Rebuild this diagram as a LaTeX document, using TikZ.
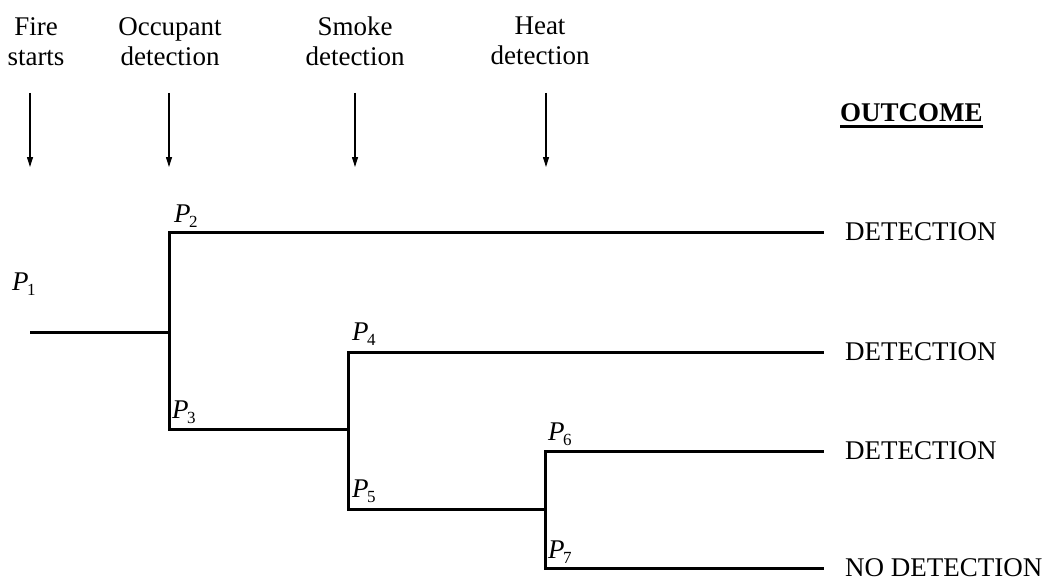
\documentclass[tikz,border=0pt]{standalone}
\usepackage{fontspec}
\setmainfont{Liberation Serif}
\usetikzlibrary{arrows.meta}

% probability label: italic P with an upright subscript digit
\newcommand\problabel[1]{\textit{P}\kern-1.5pt\raisebox{-5pt}{\fontsize{17}{17}\selectfont #1}}

\begin{document}
\begin{tikzpicture}[x=1pt, y=-1pt,
    every node/.style={inner sep=0pt, font=\fontsize{27}{30}\selectfont},
    stage/.style={align=center, anchor=north},
    stagearrow/.style={line width=1.1pt, -{Triangle[length=10pt,width=6pt]}},
    branch/.style={line width=3pt, line cap=rect},
    outcome/.style={anchor=west},
    plab/.style={anchor=base west}]
  \useasboundingbox (0,0) rectangle (1049,583);

  % event headings and their arrows
  \node[stage] (h1) at (36,17)  {Fire\\starts};
  \node[stage] (h2) at (170,17) {Occupant\\detection};
  \node[stage] (h3) at (355,17) {Smoke\\detection};
  \node[stage] (h4) at (540,17) {Heat\\detection};

  \coordinate (a1s) at (30,93);  \coordinate (a1e) at (30,167);
  \coordinate (a2s) at (169,93); \coordinate (a2e) at (169,167);
  \coordinate (a3s) at (355,93); \coordinate (a3e) at (355,167);
  \coordinate (a4s) at (546,93); \coordinate (a4e) at (546,167);
  \draw[stagearrow] (a1s) -- (a1e);
  \draw[stagearrow] (a2s) -- (a2e);
  \draw[stagearrow] (a3s) -- (a3e);
  \draw[stagearrow] (a4s) -- (a4e);

  % outcome column
  \node[anchor=base west] (oc) at (840,122) {\textbf{OUTCOME}};
  \draw[line width=2.2pt] ([yshift=-4.5pt]oc.base west) -- ([yshift=-4.5pt]oc.base east);

  \node[outcome] (o1) at (845,232) {DETECTION};
  \node[outcome] (o2) at (845,352) {DETECTION};
  \node[outcome] (o3) at (845,451) {DETECTION};
  \node[outcome] (o4) at (845,568) {NO DETECTION};

  % junctions of the event tree
  \coordinate (start) at (31,332);
  \coordinate (j1)  at (169,332);
  \coordinate (j1u) at (169,232);
  \coordinate (j1d) at (169,429);
  \coordinate (j2)  at (348,429);
  \coordinate (j2u) at (348,352);
  \coordinate (j2d) at (348,509);
  \coordinate (j3)  at (545,509);
  \coordinate (j3u) at (545,451);
  \coordinate (j3d) at (545,568);
  \coordinate (e1) at (822,232);
  \coordinate (e2) at (822,352);
  \coordinate (e3) at (822,451);
  \coordinate (e4) at (822,568);

  \draw[branch] (start) -- (j1);
  \draw[branch] (j1u) -- (j1d);
  \draw[branch] (j1u) -- (e1);
  \draw[branch] (j1d) -- (j2);
  \draw[branch] (j2u) -- (j2d);
  \draw[branch] (j2u) -- (e2);
  \draw[branch] (j2d) -- (j3);
  \draw[branch] (j3u) -- (j3d);
  \draw[branch] (j3u) -- (e3);
  \draw[branch] (j3d) -- (e4);

  % branch probabilities
  \node[plab] (p1) at (12,290)  {\problabel{1}};
  \node[plab] (p2) at (174,222) {\problabel{2}};
  \node[plab] (p3) at (172,418) {\problabel{3}};
  \node[plab] (p4) at (352,340) {\problabel{4}};
  \node[plab] (p5) at (352,497) {\problabel{5}};
  \node[plab] (p6) at (548,440) {\problabel{6}};
  \node[plab] (p7) at (548,558) {\problabel{7}};
\end{tikzpicture}
\end{document}
